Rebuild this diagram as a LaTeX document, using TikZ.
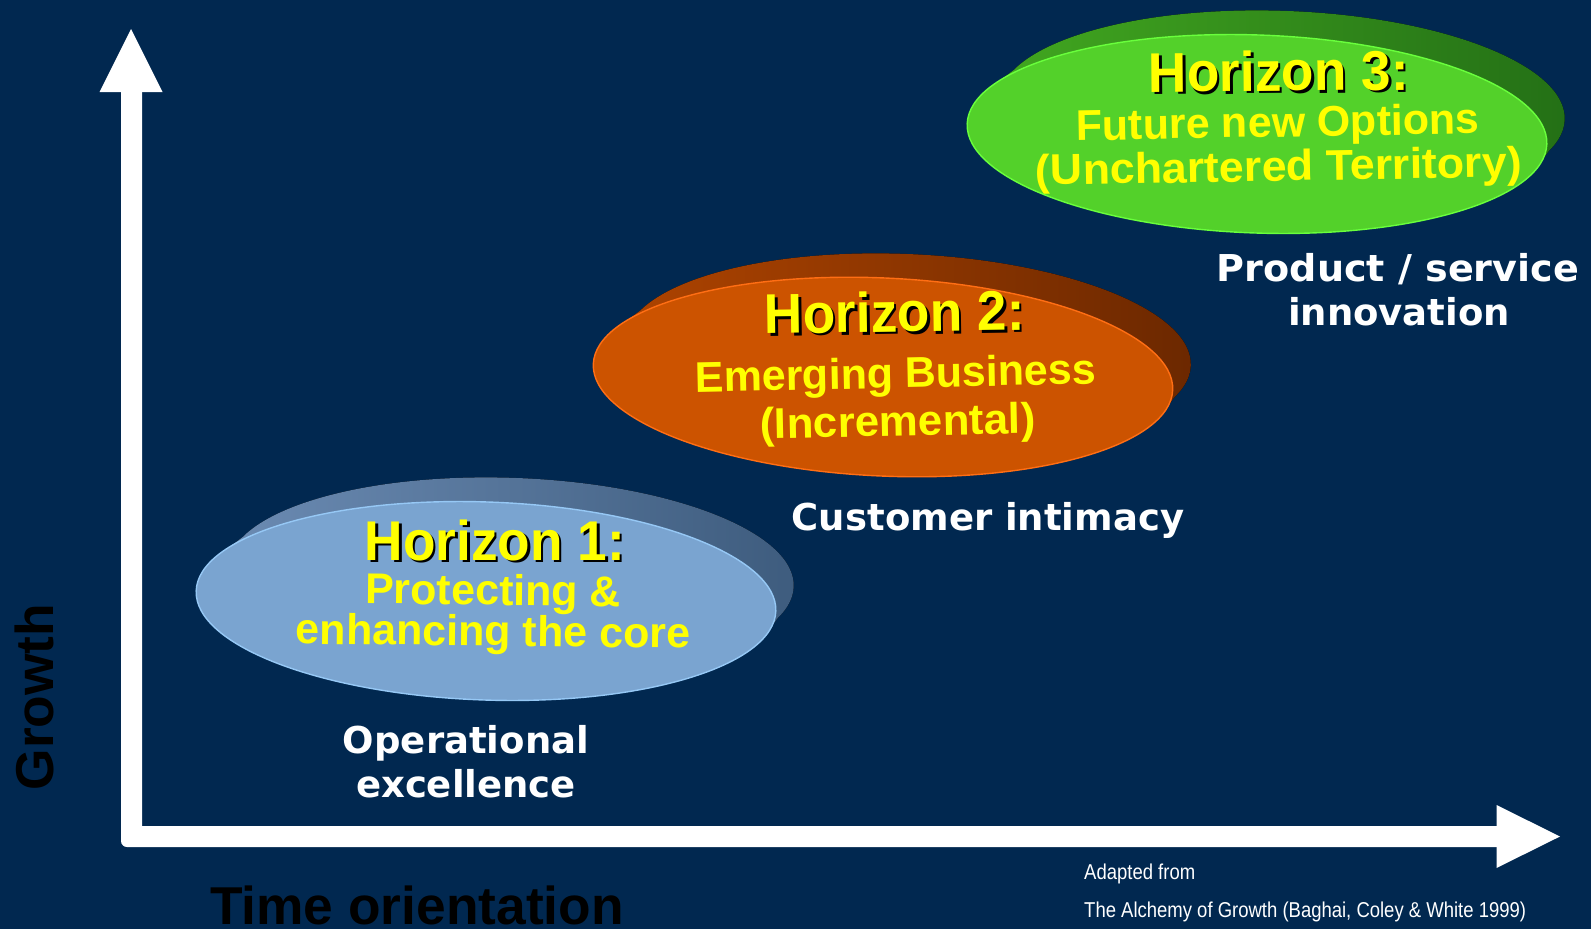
\documentclass[tikz,border=0pt]{standalone}
\usepackage{fontspec}
\usepackage{graphicx}
\setmainfont{Liberation Sans}
\newfontfamily\labelfont{DejaVu Sans}

\definecolor{navy}{RGB}{1,40,80}
\definecolor{hzyellow}{RGB}{255,255,0}
% horizon 1 disc
\definecolor{blueface}{RGB}{122,164,208}
\definecolor{bluebandL}{RGB}{108,140,180}
\definecolor{bluebandR}{RGB}{62,92,126}
\definecolor{bluerim}{RGB}{150,200,245}
% horizon 2 disc
\definecolor{orangeface}{RGB}{204,83,0}
\definecolor{orangebandL}{RGB}{175,68,0}
\definecolor{orangebandR}{RGB}{108,40,0}
\definecolor{orangerim}{RGB}{255,110,20}
% horizon 3 disc
\definecolor{greenface}{RGB}{83,209,42}
\definecolor{greenbandL}{RGB}{66,168,32}
\definecolor{greenbandR}{RGB}{36,112,22}
\definecolor{greenrim}{RGB}{105,255,60}

% disc with a raised rim: centre x, centre y, tilt, face, band left, band right, rim
% the far edge is a slightly narrower ellipse moved by (24,-25); the side
% lines join the points where both edges run parallel to that move
\newcommand{\hzdisc}[7]{%
  \begin{scope}[rotate around={#3:(#1,#2)}]
    \fill[left color=#5, right color=#6]
      ({#1+24},{#2-25}) ellipse [x radius=283pt, y radius=99pt]
      ({#1+24},{#2-25}) ellipse [x radius=283pt, y radius=99pt]
      ({#1+275.6},{#2+30.8}) -- ({#1+292.9},{#2+5.8}) -- ({#1-244.9},{#2-55.8}) -- ({#1-275.6},{#2-30.8}) -- cycle;
    \fill[#4] (#1,#2) ellipse [x radius=290pt, y radius=99pt];
    \draw[#7, line width=1.4pt] (#1,#2) ellipse [x radius=290pt, y radius=99pt];
  \end{scope}}

\tikzset{
  hztitle/.style={font=\bfseries\fontsize{56}{60}\selectfont, text=hzyellow, anchor=base, inner sep=0pt},
  hzshadow/.style={hztitle, text=black},
  hzsub/.style={font=\bfseries\fontsize{43}{46}\selectfont, text=hzyellow, anchor=base, inner sep=0pt},
  strategy/.style={font=\labelfont\bfseries\fontsize{37}{40}\selectfont, text=white, anchor=base, inner sep=0pt},
  axisname/.style={font=\bfseries\fontsize{53.3}{56}\selectfont, text=black, anchor=base, inner sep=0pt},
  source/.style={font=\fontsize{21.5}{24}\selectfont, text=white, anchor=base west, inner sep=0pt},
}

\begin{document}
\begin{tikzpicture}[x=1pt, y=-1pt]
  \fill[navy] (0,0) rectangle (1591,929);
  \useasboundingbox (0,0) rectangle (1591,929);

  % axes
  \coordinate (origin) at (121,847);
  \coordinate (ytip) at (131,29);
  \coordinate (xtip) at (1560,836.5);
  \fill[white] (142,92) -- (121,92) [rounded corners=6pt] -- (origin) [sharp corners] -- (1497,847) -- (1497,826) -- (142,826) -- cycle;
  \fill[white] (ytip) -- (162.5,92) -- (99.5,92) -- cycle;
  \fill[white] (xtip) -- (1496.5,868) -- (1496.5,805) -- cycle;

  % discs
  \hzdisc{486}{601}{-2.0}{blueface}{bluebandL}{bluebandR}{bluerim}
  \hzdisc{883}{377}{-2.6}{orangeface}{orangebandL}{orangebandR}{orangerim}
  \hzdisc{1257}{134}{-2.0}{greenface}{greenbandL}{greenbandR}{greenrim}

  % horizon 1
  \node[hzshadow] (h1s) at (497.5,562.5) {\scalebox{0.95}[1]{Horizon 1:}};
  \node[hztitle] (h1) at (495,560) {\scalebox{0.95}[1]{Horizon 1:}};
  \node[hzsub, rotate=-0.6] (h1a) at (493,605) {Protecting \&};
  \node[hzsub, rotate=-0.6] (h1b) at (493,646) {enhancing the core};

  % horizon 2
  \node[hzshadow, rotate=0.8] (h2s) at (897.5,334.5) {\scalebox{0.95}[1]{Horizon 2:}};
  \node[hztitle, rotate=0.8] (h2) at (895,332) {\scalebox{0.95}[1]{Horizon 2:}};
  \node[hzsub, rotate=1.2] (h2a) at (896,388) {Emerging Business};
  \node[hzsub, rotate=1.2] (h2b) at (898,436) {\scalebox{1.02}[1]{(Incremental)}};

  % horizon 3
  \node[hzshadow, rotate=0.5] (h3s) at (1281.5,93.5) {\scalebox{0.95}[1]{Horizon 3:}};
  \node[hztitle, rotate=0.5] (h3) at (1279,91) {\scalebox{0.95}[1]{Horizon 3:}};
  \node[hzsub, rotate=1.0] (h3a) at (1278,137) {Future new Options};
  \node[hzsub, rotate=1.0] (h3b) at (1279,181) {\scalebox{1.04}[1]{(Unchartered Territory)}};

  % strategic focus of each horizon
  \node[strategy] (s1a) at (466,753) {Operational};
  \node[strategy] (s1b) at (466,797) {excellence};
  \node[strategy] (s2) at (988,530) {Customer intimacy};
  \node[strategy] (s3a) at (1398,281) {\scalebox{1.03}[1]{Product / service}};
  \node[strategy] (s3b) at (1399,325) {innovation};

  % axis names
  \node[axisname, rotate=90] (growth) at (53,697) {Growth};
  \node[axisname] (time) at (417,924) {Time orientation};

  % source
  \node[source] (src1) at (1084,879) {\scalebox{0.86}[1]{Adapted from}};
  \node[source] (src2) at (1084,917) {\scalebox{0.86}[1]{The Alchemy of Growth (Baghai, Coley \& White 1999)}};
\end{tikzpicture}
\end{document}
